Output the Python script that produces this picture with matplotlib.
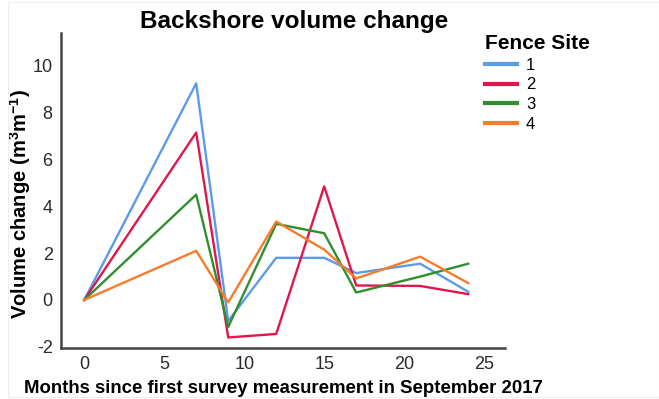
import matplotlib
matplotlib.use("Agg")
import matplotlib.pyplot as plt
from matplotlib.patches import Rectangle

plt.rcParams['font.family'] = ['Liberation Sans', 'DejaVu Sans']
plt.rcParams['axes.unicode_minus'] = False
plt.rcParams['mathtext.fontset'] = 'custom'
plt.rcParams['mathtext.rm'] = 'Liberation Sans'
plt.rcParams['mathtext.bf'] = 'Liberation Sans:bold'

# months since first survey (Sep 2017)
months = [0, 7, 9, 12, 15, 17, 21, 24]

site1 = [0, 9.25, -0.9, 1.8, 1.8, 1.15, 1.55, 0.35]
site2 = [0, 7.15, -1.6, -1.45, 4.85, 0.62, 0.6, 0.25]
site3 = [0, 4.5, -1.15, 3.25, 2.85, 0.32, 1.0, 1.55]
site4 = [0, 2.1, -0.1, 3.35, 2.15, 0.92, 1.85, 0.72]

sites = ['1', '2', '3', '4']
colors = ['#5b9bea', '#e0174c', '#2f8f2f', '#f77b2d']

fig = plt.figure(figsize=(6.59, 3.99), dpi=100)
ax = fig.add_axes([61 / 659, 1 - 348 / 399, 444 / 659, 315 / 399])

for vals, name, c in zip([site1, site2, site3, site4], sites, colors):
    ax.plot(months, vals, color=c, lw=1.7, label=name)

ax.set_xlim(-1.45, 26.3)
ax.set_ylim(-2.05, 11.4)
ax.set_xticks([0, 5, 10, 15, 20, 25])
ax.set_yticks([-2, 0, 2, 4, 6, 8, 10])
ax.tick_params(length=0, labelsize=13, pad=6, colors='#2a2a2a')

for s in ['top', 'right']:
    ax.spines[s].set_visible(False)
for s in ['left', 'bottom']:
    ax.spines[s].set_color('#444444')
    ax.spines[s].set_linewidth(1.8)

ax.set_title('Backshore volume change', fontsize=17.5, fontweight='bold',
             x=0.525, pad=3)
ax.set_xlabel('Months since first survey measurement in September 2017',
              fontsize=13.4, fontweight='bold', labelpad=5)
ax.set_ylabel(r'Volume change (m$^{\mathbf{3}}$m$^{\mathbf{-1}}$)',
              fontsize=14.5, fontweight='bold')
ax.yaxis.set_label_coords(-0.062, 0.457)

leg = fig.legend(loc='upper left', bbox_to_anchor=(470 / 659, 1 - 19 / 399),
                 title='Fence Site', frameon=False, fontsize=12,
                 handlelength=1.9, handletextpad=0.55, labelspacing=0.28,
                 alignment='left')
leg.get_title().set_fontsize(15)
leg.get_title().set_fontweight('bold')
for line in leg.get_lines():
    line.set_linewidth(3)

# faint frame around the figure
fig.patches.append(Rectangle((8 / 659, 2 / 399), 1 - 8 / 659, 395 / 399,
                             transform=fig.transFigure, fill=False,
                             edgecolor='#eeeeee', lw=0.8))

fig.savefig('out.png', dpi=100)
